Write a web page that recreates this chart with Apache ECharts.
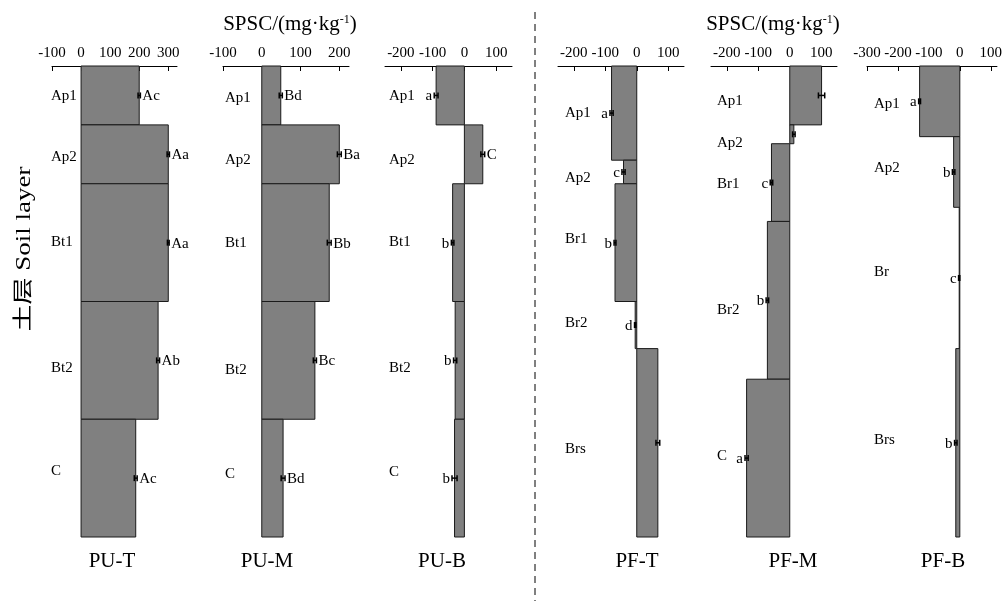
<!DOCTYPE html>
<html>
<head>
<meta charset="utf-8">
<script src="https://cdn.jsdelivr.net/npm/echarts@6/dist/echarts.min.js"></script>
<style>
  html, body { margin: 0; padding: 0; background: #fff; }
  #chart { width: 1005px; height: 601px; }
</style>
</head>
<body>
<div id="chart"></div>
<script>
// data
const panels = ['PU-T', 'PU-M', 'PU-B', 'PF-T', 'PF-M', 'PF-B'];
const layerNames = [
  ['Ap1', 'Ap2', 'Bt1', 'Bt2', 'C'],
  ['Ap1', 'Ap2', 'Bt1', 'Bt2', 'C'],
  ['Ap1', 'Ap2', 'Bt1', 'Bt2', 'C'],
  ['Ap1', 'Ap2', 'Br1', 'Br2', 'Brs'],
  ['Ap1', 'Ap2', 'Br1', 'Br2', 'C'],
  ['Ap1', 'Ap2', 'Br', 'Brs']
];
// layer boundaries, relative depth (0 = surface, 100 = bottom of profile)
const depthBounds = [
  [0, 12.5, 25, 50, 75, 100],
  [0, 12.5, 25, 50, 75, 100],
  [0, 12.5, 25, 50, 75, 100],
  [0, 20, 25, 50, 60, 100],
  [0, 12.5, 16.5, 33, 66.5, 100],
  [0, 15, 30, 60, 100]
];
const spsc = [
  [200, 300, 300, 265, 188],
  [49, 200, 174, 137, 55],
  [-89, 58, -37, -29, -31],
  [-80, -42, -69, -5, 67],
  [101, 13, -58, -71, -137],
  [-130, -20, -2, -13]
];
const spscErr = [
  [4, 4, 3, 5, 5],
  [4, 5, 5, 4, 5],
  [6, 6, 4, 5, 8],
  [5, 5, 3, 2, 6],
  [10, 4, 4, 4, 5],
  [3, 4, 2, 4]
];
const letters = [
  ['Ac', 'Aa', 'Aa', 'Ab', 'Ac'],
  ['Bd', 'Ba', 'Bb', 'Bc', 'Bd'],
  ['a', 'C', 'b', 'b', 'b'],
  ['a', 'c', 'b', 'd', ''],
  ['', '', 'c', 'b', 'a'],
  ['a', 'b', 'c', 'b']
];
const nameDepth = [
  [6.4, 19.3, 37.4, 64.1, 86],
  [6.8, 20, 37.6, 64.5, 86.6],
  [6.4, 20, 37.4, 64.1, 86.2],
  [10, 23.8, 36.7, 54.6, 81.3],
  [7.4, 16.3, 25, 51.8, 82.8],
  [8, 21.7, 43.7, 79.4]
];
const xMin = [-100, -100, -250, -250, -250, -300];
const xMax = [330, 225, 150, 150, 150, 120];
const tickValues = [
  [-100, 0, 100, 200, 300],
  [-100, 0, 100, 200],
  [-200, -100, 0, 100],
  [-200, -100, 0, 100],
  [-200, -100, 0, 100],
  [-300, -200, -100, 0, 100]
];
const xTitle = 'SPSC/(mg·kg';
const yTitle = '土层 Soil layer';

// layout
const gridLeft = [52, 223, 385, 558, 711, 867];
const gridWidth = [125, 126, 127, 126, 126, 131];
const nameOffset = [-1, 2, 4, 7, 6, 7];
const panelTitleX = [112, 267, 442, 637, 793, 943];
const serif = '"Liberation Serif", "Times New Roman", serif';

const chart = echarts.init(document.getElementById('chart'));

const grid = [], xAxis = [], yAxis = [], series = [];

panels.forEach((p, i) => {
  grid.push({ left: gridLeft[i], width: gridWidth[i], top: 66, height: 471 });
  xAxis.push({
    type: 'value', gridIndex: i, position: 'top',
    min: xMin[i], max: xMax[i],
    splitLine: { show: false },
    axisLine: { show: true, lineStyle: { color: '#000', width: 1 } },
    axisTick: { show: true, inside: true, length: 5, customValues: tickValues[i], lineStyle: { color: '#000' } },
    axisLabel: { customValues: tickValues[i], color: '#000', fontFamily: serif, fontSize: 15, margin: 5 }
  });
  yAxis.push({ type: 'value', gridIndex: i, min: 0, max: 100, inverse: true, show: false });

  // horizontal bars, thickness = layer depth
  series.push({
    type: 'custom', xAxisIndex: i, yAxisIndex: i,
    data: spsc[i].map((v, k) => [v, depthBounds[i][k], depthBounds[i][k + 1]]),
    renderItem: (params, api) => {
      const a = api.coord([0, api.value(1)]);
      const b = api.coord([api.value(0), api.value(2)]);
      return {
        type: 'rect',
        shape: { x: Math.min(a[0], b[0]), y: a[1], width: Math.max(Math.abs(b[0] - a[0]), 0.5), height: b[1] - a[1] },
        style: { fill: '#808080', stroke: '#1a1a1a', lineWidth: 1 }
      };
    }
  });

  // error bars + significance letters
  series.push({
    type: 'custom', xAxisIndex: i, yAxisIndex: i,
    data: spsc[i].map((v, k) => [v, (depthBounds[i][k] + depthBounds[i][k + 1]) / 2]),
    renderItem: (params, api) => {
      const k = params.dataIndex;
      const v = spsc[i][k], e = spscErr[i][k];
      const mid = api.value(1);
      const lo = api.coord([v - e, mid]), hi = api.coord([v + e, mid]);
      const y = lo[1];
      const children = [
        { type: 'line', shape: { x1: lo[0], y1: y, x2: hi[0], y2: y }, style: { stroke: '#000', lineWidth: 1.5 } },
        { type: 'line', shape: { x1: lo[0], y1: y - 3, x2: lo[0], y2: y + 3 }, style: { stroke: '#000', lineWidth: 1.5 } },
        { type: 'line', shape: { x1: hi[0], y1: y - 3, x2: hi[0], y2: y + 3 }, style: { stroke: '#000', lineWidth: 1.5 } }
      ];
      const t = letters[i][k];
      if (t) {
        children.push({
          type: 'text',
          style: {
            text: t, x: v >= 0 ? hi[0] + 2 : lo[0] - 2, y: y + 1,
            align: v >= 0 ? 'left' : 'right', verticalAlign: 'middle',
            font: '15px ' + serif, fill: '#000'
          }
        });
      }
      return { type: 'group', children };
    }
  });

  // layer names
  series.push({
    type: 'custom', xAxisIndex: i, yAxisIndex: i,
    data: nameDepth[i].map(d => [xMin[i], d]),
    renderItem: (params, api) => {
      const pt = api.coord([api.value(0), api.value(1)]);
      return {
        type: 'text',
        style: {
          text: layerNames[i][params.dataIndex], x: pt[0] + nameOffset[i], y: pt[1],
          align: 'left', verticalAlign: 'middle', font: '15px ' + serif, fill: '#000'
        }
      };
    }
  });
});

const graphic = [];
panels.forEach((p, i) => {
  graphic.push({
    type: 'text', x: panelTitleX[i], y: 561,
    style: { text: p, align: 'center', verticalAlign: 'middle', font: '21px ' + serif, fill: '#000' }
  });
});
[290, 773].forEach(cx => {
  graphic.push({
    type: 'text', x: cx, y: 24,
    style: {
      text: '{a|' + xTitle + '}{s|-1}{a|)}', align: 'center', verticalAlign: 'middle',
      rich: {
        a: { fontFamily: serif, fontSize: 21, fill: '#000' },
        s: { fontFamily: serif, fontSize: 12, fill: '#000', verticalAlign: 'top' }
      }
    }
  });
});
// y title: stretched along its baseline like the original
graphic.push({
  type: 'text', x: 25, y: 249, rotation: Math.PI / 2, scaleX: 1.35,
  style: { text: yTitle, align: 'center', verticalAlign: 'middle', font: '20px ' + serif + ', "Noto Sans CJK SC"', fill: '#000' }
});
graphic.push({
  type: 'line', shape: { x1: 535, y1: 12, x2: 535, y2: 601 },
  style: { stroke: '#000', lineWidth: 1, lineDash: [7, 5] }
});

chart.setOption({
  animation: false,
  grid, xAxis, yAxis, series, graphic
});
</script>
</body>
</html>
